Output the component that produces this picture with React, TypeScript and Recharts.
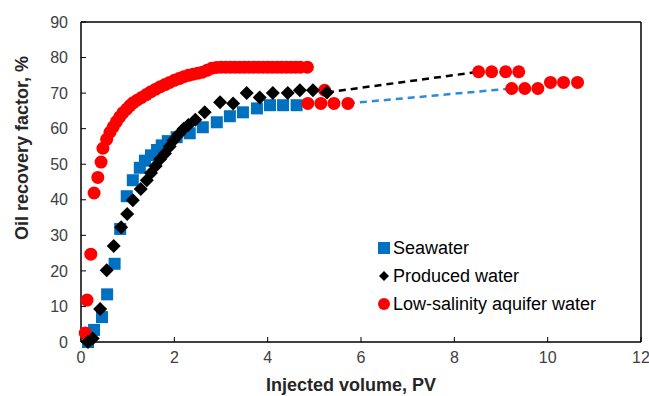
import React from 'react'
import { ScatterChart, Scatter, XAxis, YAxis, ReferenceLine } from 'recharts'

// Seawater (blue squares)
const seawaterX = [0.15, 0.28, 0.45, 0.56, 0.72, 0.84, 0.98, 1.11, 1.26, 1.37, 1.5, 1.63, 1.73, 1.86, 2.05, 2.33, 2.61, 2.91, 3.19, 3.47, 3.77, 4.05, 4.33, 4.62]
const seawaterY = [0, 3.4, 7, 13.4, 22, 31.8, 41, 45.5, 49, 51, 52.5, 54, 55.3, 56.5, 57.6, 58.7, 60.4, 61.8, 63.5, 64.6, 65.7, 66.6, 66.6, 66.6]

// Produced water (black diamonds)
const producedX = [0.15, 0.25, 0.41, 0.55, 0.7, 0.86, 0.99, 1.11, 1.28, 1.41, 1.5, 1.6, 1.7, 1.8, 1.9, 1.98, 2.1, 2.2, 2.3, 2.45, 2.65, 2.98, 3.26, 3.55, 3.83, 4.11, 4.43, 4.69, 4.97, 5.27]
const producedY = [0, 1, 9.3, 20.2, 27, 32.3, 36, 39.9, 43, 45.5, 47.5, 49.5, 51.5, 53, 55, 56.7, 58.5, 60, 61, 62.5, 64.6, 67.4, 67.1, 70, 68.8, 70, 70, 70.8, 70.8, 70.2]

// Low-salinity aquifer water (red circles)
const lowSalX = [
  0.09, 0.13, 0.21, 0.28, 0.36, 0.43, 0.47, 0.55, 0.62, 0.69, 0.76, 0.83, 0.9, 0.98, 1.05, 1.12, 1.2, 1.3, 1.4, 1.5,
  1.6, 1.7, 1.8, 1.9, 2.0, 2.1, 2.2, 2.3, 2.4, 2.5, 2.6, 2.7, 2.8, 2.9, 3.0, 3.1, 3.2, 3.3, 3.4, 3.5,
  3.6, 3.7, 3.8, 3.9, 4.0, 4.1, 4.2, 4.3, 4.4, 4.5, 4.6, 4.7, 4.85,
  4.86, 5.14, 5.22, 5.42, 5.72,
  8.52, 8.8, 9.1, 9.38,
  9.23, 9.51, 9.79, 10.06, 10.34, 10.64,
]
const lowSalY = [
  2.5, 11.8, 24.7, 41.9, 46.3, 50.6, 54.5, 57, 59, 60.5, 62, 63.3, 64.5, 65.5, 66.5, 67.3, 68, 68.8, 69.6, 70.4,
  71.1, 71.8, 72.4, 73, 73.6, 74.1, 74.6, 75, 75.3, 75.6, 75.9, 76.4, 77, 77.2, 77.3, 77.3, 77.3, 77.3, 77.3, 77.3,
  77.3, 77.3, 77.3, 77.3, 77.3, 77.3, 77.3, 77.3, 77.3, 77.3, 77.3, 77.3, 77.3,
  67.1, 67.1, 70.8, 67.1, 67.1,
  76, 76, 76, 76,
  71.3, 71.3, 71.3, 73, 73, 73,
]

// dashed connectors
const blackDashX = [5.27, 8.52]
const blackDashY = [70.2, 76]
const blueDashX = [5.72, 9.23]
const blueDashY = [67.1, 71.3]

const xTicks = [0, 2, 4, 6, 8, 10, 12]
const yTicks = [0, 10, 20, 30, 40, 50, 60, 70, 80, 90]

const zip = (xs: number[], ys: number[]) => xs.map((x, i) => ({ x, y: ys[i] }))

const BLUE = '#0070C0'
const RED = '#FF0000'

const SquareDot = (p: any) => <rect x={p.cx - 6} y={p.cy - 6} width={12} height={12} fill={BLUE} />
const DiamondDot = (p: any) => (
  <polygon points={`${p.cx},${p.cy - 7} ${p.cx + 7},${p.cy} ${p.cx},${p.cy + 7} ${p.cx - 7},${p.cy}`} fill="#000" />
)
const CircleDot = (p: any) => <circle cx={p.cx} cy={p.cy} r={6.5} fill={RED} />
const NoDot = () => <g />

const legendItems = [
  { name: 'Seawater', kind: 'square' },
  { name: 'Produced water', kind: 'diamond' },
  { name: 'Low-salinity aquifer water', kind: 'circle' },
]

const LegendMarker = ({ kind }: { kind: string }) => (
  <svg width={14} height={14} style={{ marginRight: 2 }}>
    {kind === 'square' && <rect x={1} y={1} width={12} height={12} fill={BLUE} />}
    {kind === 'diamond' && <polygon points="7,2 12,7 7,12 2,7" fill="#000" />}
    {kind === 'circle' && <circle cx={7} cy={7} r={6} fill={RED} />}
  </svg>
)

export default function App() {
  return (
    <div
      style={{
        position: 'absolute',
        left: 0,
        top: 0,
        width: 649,
        height: 396,
        background: '#fff',
        fontFamily: '"Liberation Sans", Arial, sans-serif',
      }}
    >
      <ScatterChart width={649} height={396} margin={{ top: 22, right: 8, left: 0, bottom: 0 }}>
        <XAxis
          type="number"
          dataKey="x"
          domain={[0, 12]}
          ticks={xTicks}
          height={54}
          axisLine={{ stroke: '#000', strokeWidth: 1.5 }}
          tickLine={{ stroke: '#000' }}
          tickSize={-5}
          tickMargin={15}
          tick={{ fill: '#404040', fontSize: 16 }}
          label={{
            content: () => (
              <text x={351} y={391} textAnchor="middle" fontWeight="bold" fontSize={18} fill="#262626">
                Injected volume, PV
              </text>
            ),
          }}
        />
        <YAxis
          type="number"
          dataKey="y"
          domain={[0, 90]}
          ticks={yTicks}
          width={81}
          axisLine={{ stroke: '#000', strokeWidth: 1.5 }}
          tickLine={{ stroke: '#000' }}
          tickSize={-5}
          tickMargin={18}
          tick={{ fill: '#404040', fontSize: 16 }}
          label={{
            content: () => (
              <text
                x={22}
                y={148}
                transform="rotate(-90 22 148)"
                textAnchor="middle"
                dominantBaseline="central"
                fontWeight="bold"
                fontSize={18}
                fill="#262626"
              >
                Oil recovery factor, %
              </text>
            ),
          }}
        />
        <ReferenceLine y={90} stroke="#000" strokeWidth={1.5} />
        <ReferenceLine x={12} stroke="#000" strokeWidth={1.5} />
        <Scatter
          data={zip(blackDashX, blackDashY)}
          line={{ stroke: '#000', strokeWidth: 2.5, strokeDasharray: '7 5' }}
          shape={NoDot}
          isAnimationActive={false}
        />
        <Scatter
          data={zip(blueDashX, blueDashY)}
          line={{ stroke: '#2E8BD8', strokeWidth: 2.5, strokeDasharray: '7 5' }}
          shape={NoDot}
          isAnimationActive={false}
        />
        <Scatter name="Seawater" data={zip(seawaterX, seawaterY)} shape={SquareDot} isAnimationActive={false} />
        <Scatter name="Low-salinity aquifer water" data={zip(lowSalX, lowSalY)} shape={CircleDot} isAnimationActive={false} />
        <Scatter name="Produced water" data={zip(producedX, producedY)} shape={DiamondDot} isAnimationActive={false} />
      </ScatterChart>
      <div style={{ position: 'absolute', left: 377, top: 234, fontSize: 18, color: '#000' }}>
        {legendItems.map(item => (
          <div key={item.name} style={{ display: 'flex', alignItems: 'center', height: 28, lineHeight: '28px', whiteSpace: 'nowrap' }}>
            <LegendMarker kind={item.kind} />
            <span>{item.name}</span>
          </div>
        ))}
      </div>
    </div>
  )
}
